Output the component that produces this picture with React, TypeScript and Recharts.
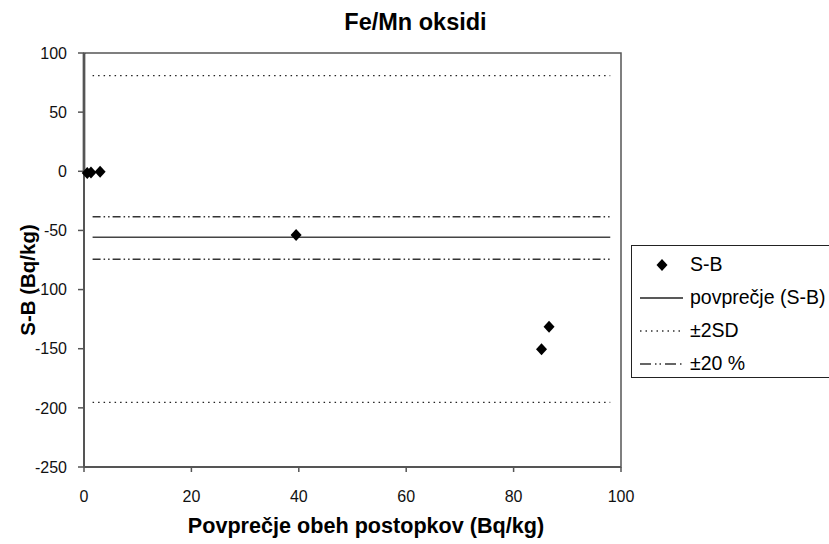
import React from "react";
import {
  ComposedChart,
  Line,
  Scatter,
  XAxis,
  YAxis,
  ReferenceArea,
  Label,
} from "recharts";

// Measured points: average of both procedures vs. difference S-B
const avgValues = [0.6, 1.3, 3.0, 39.5, 85.2, 86.6];
const diffValues = [-1.5, -1.0, -0.3, -53.8, -150.5, -131.4];

// Horizontal guide levels
const meanLevel = -55.8;
const sdUpper = 80.8;
const sdLower = -195.3;
const pctUpper = -38.4;
const pctLower = -74.4;
const guideStart = 1.6;
const guideEnd = 98;

const xTicks = [0, 20, 40, 60, 80, 100];
const yTicks = [100, 50, 0, -50, -100, -150, -200, -250];

const chartTitle = "Fe/Mn oksidi";
const xTitle = "Povprečje obeh postopkov (Bq/kg)";
const yTitle = "S-B (Bq/kg)";
const seriesNames = ["S-B", "povprečje (S-B)", "±2SD", "±20 %"];

const points = avgValues.map((x, i) => ({ x, y: diffValues[i] }));
const guide = (level: number) => [
  { x: guideStart, y: level },
  { x: guideEnd, y: level },
];
const leftBar = [
  { x: 0, y: 100 },
  { x: 0, y: 0 },
];

const FONT = "'Liberation Sans', Arial, sans-serif";
const DASH_DOT = "8 3 1.5 3 1.5 3";
const DOTTED = "1.5 4";

const Diamond = (props: any) => {
  const { cx, cy } = props;
  if (cx == null || cy == null) return null;
  return (
    <polygon
      points={`${cx},${cy - 6} ${cx + 5.5},${cy} ${cx},${cy + 6} ${cx - 5.5},${cy}`}
      fill="#000"
    />
  );
};

const LegendSymbol = ({ kind }: { kind: number }) => {
  if (kind === 0) {
    return (
      <svg width={52} height={20}>
        <polygon points="30,4 35.5,10 30,16 24.5,10" fill="#000" />
      </svg>
    );
  }
  const dash =
    kind === 1 ? undefined : kind === 2 ? DOTTED : "11 4 1.5 3 1.5 4";
  return (
    <svg width={52} height={20}>
      <line
        x1={8}
        x2={51}
        y1={10}
        y2={10}
        stroke={kind === 1 ? "#222" : "#333"}
        strokeWidth={1.5}
        strokeDasharray={dash}
      />
    </svg>
  );
};

export default function App() {
  return (
    <div
      style={{
        position: "absolute",
        left: 0,
        top: 0,
        width: 829,
        height: 544,
        overflow: "hidden",
        background: "#fff",
        fontFamily: FONT,
      }}
    >
      <div
        style={{
          position: "absolute",
          left: 0,
          width: 831,
          top: 8,
          textAlign: "center",
          fontWeight: "bold",
          fontSize: 23.5,
          lineHeight: "28px",
          color: "#000",
        }}
      >
        {chartTitle}
      </div>
      <ComposedChart
        width={829}
        height={544}
        margin={{ top: 53, right: 208, bottom: 0, left: 0 }}
      >
        <XAxis
          type="number"
          dataKey="x"
          domain={[0, 100]}
          ticks={xTicks}
          interval={0}
          height={77}
          axisLine={{ stroke: "#555", strokeWidth: 2 }}
          tickLine={{ stroke: "#555", strokeWidth: 1.5 }}
          tickSize={5}
          tickMargin={19}
          tick={{ fill: "#111", fontSize: 16, fontFamily: FONT }}
        >
          <Label
            content={(p: any) => {
              const vb = p.viewBox || {};
              return (
                <text
                  x={vb.x + vb.width / 2 + 13.5}
                  y={533}
                  textAnchor="middle"
                  fontFamily={FONT}
                  fontWeight="bold"
                  fontSize={21.6}
                  fill="#000"
                >
                  {xTitle}
                </text>
              );
            }}
          />
        </XAxis>
        <YAxis
          type="number"
          dataKey="y"
          domain={[-250, 100]}
          ticks={yTicks}
          interval={0}
          width={84}
          axisLine={{ stroke: "#555", strokeWidth: 2 }}
          tickLine={{ stroke: "#555", strokeWidth: 1.5 }}
          tickSize={6}
          tickMargin={11}
          tick={{ fill: "#111", fontSize: 16, fontFamily: FONT }}
        >
          <Label
            content={() => (
              <text
                x={0}
                y={0}
                transform="translate(27,280) rotate(-90)"
                textAnchor="middle"
                dominantBaseline="central"
                fontFamily={FONT}
                fontWeight="bold"
                fontSize={20.5}
                fill="#000"
              >
                {yTitle}
              </text>
            )}
          />
        </YAxis>
        <ReferenceArea
          x1={0}
          x2={100}
          y1={-250}
          y2={100}
          fill="none"
          stroke="#555"
          strokeWidth={1.5}
        />
        <Line
          data={leftBar}
          dataKey="y"
          stroke="#000"
          strokeWidth={2.5}
          dot={false}
          legendType="none"
          isAnimationActive={false}
        />
        <Line
          data={guide(sdUpper)}
          dataKey="y"
          stroke="#222"
          strokeWidth={1.3}
          strokeDasharray={DOTTED}
          dot={false}
          isAnimationActive={false}
        />
        <Line
          data={guide(sdLower)}
          dataKey="y"
          stroke="#222"
          strokeWidth={1.3}
          strokeDasharray={DOTTED}
          dot={false}
          isAnimationActive={false}
        />
        <Line
          data={guide(pctUpper)}
          dataKey="y"
          stroke="#333"
          strokeWidth={1.5}
          strokeDasharray={DASH_DOT}
          dot={false}
          isAnimationActive={false}
        />
        <Line
          data={guide(pctLower)}
          dataKey="y"
          stroke="#333"
          strokeWidth={1.5}
          strokeDasharray={DASH_DOT}
          dot={false}
          isAnimationActive={false}
        />
        <Line
          data={guide(meanLevel)}
          dataKey="y"
          stroke="#444"
          strokeWidth={1.5}
          dot={false}
          isAnimationActive={false}
        />
        <Scatter
          data={points}
          dataKey="y"
          shape={Diamond}
          isAnimationActive={false}
        />
      </ComposedChart>
      <div
        style={{
          position: "absolute",
          left: 631,
          top: 245,
          width: 220,
          height: 129,
          border: "1.5px solid #222",
          boxSizing: "content-box",
          paddingTop: 2,
        }}
      >
        {seriesNames.map((name, i) => (
          <div
            key={name}
            style={{
              display: "flex",
              alignItems: "center",
              height: 33,
              fontSize: 19.5,
              color: "#000",
              whiteSpace: "nowrap",
            }}
          >
            <LegendSymbol kind={i} />
            <span style={{ marginLeft: 6 }}>{name}</span>
          </div>
        ))}
      </div>
    </div>
  );
}
